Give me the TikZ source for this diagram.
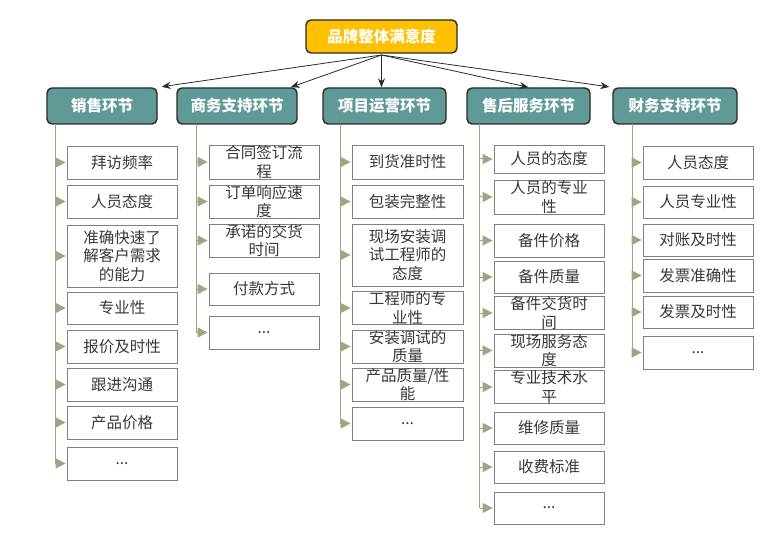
\documentclass[tikz,border=0pt]{standalone}
\usepackage{fontspec}
\newfontfamily\cjk{Noto Sans CJK SC}
\usetikzlibrary{arrows.meta}
\definecolor{topfill}{HTML}{FFC000}
\definecolor{catfill}{HTML}{5F9A96}
\definecolor{darkline}{HTML}{2A2A2A}
\definecolor{olive}{HTML}{A5A283}
\definecolor{boxline}{HTML}{808080}
\definecolor{txt}{HTML}{383838}
\tikzset{
  topbox/.style={draw=darkline, line width=1.4pt, fill=topfill, rounded corners=5pt,
    minimum width=151pt, minimum height=33pt, inner sep=0pt,
    font=\cjk\fontsize{15.5}{18}\selectfont\bfseries, text=white},
  catbox/.style={draw=darkline, line width=1.4pt, fill=catfill, rounded corners=5pt,
    minimum height=36pt, inner sep=0pt,
    font=\cjk\fontsize{15.5}{18}\selectfont\bfseries, text=white},
  child/.style={draw=boxline, line width=0.8pt, minimum width=110pt, inner sep=0pt,
    align=center, font=\cjk\fontsize{15.5}{18.5}\selectfont, text=txt},
  toparrow/.style={draw=darkline, line width=0.8pt, -{Stealth[length=9pt,width=7pt]}},
  vline/.style={draw=olive, line width=1pt},
  tri/.style={draw=olive, line width=1pt, -{Triangle[length=10pt,width=10pt,fill=olive]}, shorten >=1pt}
}
\begin{document}
\begin{tikzpicture}[x=1pt,y=-1pt]
\useasboundingbox (0,0) rectangle (784,540);

\node[topbox] (top) at (381.5,36.5) {品牌整体满意度};

\node[catbox, minimum width=110pt] (cat1) at (102,106) {销售环节};
\node[catbox, minimum width=120pt] (cat2) at (237,106) {商务支持环节};
\node[catbox, minimum width=123pt] (cat3) at (384.5,106) {项目运营环节};
\node[catbox, minimum width=123pt] (cat4) at (528.5,106) {售后服务环节};
\node[catbox, minimum width=124pt] (cat5) at (675,106) {财务支持环节};

\coordinate (src) at (381.5,55);
\draw[toparrow, shorten >=4pt] (src) -- (cat1.north east);
\draw[toparrow] (src) -- ([xshift=-7pt]cat2.north east);
\draw[toparrow] (src) -- (src |- cat3.north);
\draw[toparrow] (src) -- (cat4.north);
\draw[toparrow, shorten >=3pt] (src) -- (cat5.north west);

% column 1
\node[child, minimum height=33pt] (a1) at (122,162.5) {拜访频率};
\node[child, minimum height=33pt] (a2) at (122,201.5) {人员态度};
\node[child, minimum height=62pt] (a3) at (122,256) {准确快速了\\解客户需求\\的能力};
\node[child, minimum height=32pt] (a4) at (122,308) {专业性};
\node[child, minimum height=33pt] (a5) at (122,346.5) {报价及时性};
\node[child, minimum height=33pt] (a6) at (122,384.5) {跟进沟通};
\node[child, minimum height=33pt] (a7) at (122,422.5) {产品价格};
\node[child, minimum height=33pt] (a8) at (122,463.5) {...};

% column 2
\node[child, minimum height=34pt] (b1) at (264,162) {合同签订流\\程};
\node[child, minimum height=33pt] (b2) at (264,201.5) {订单响应速\\度};
\node[child, minimum height=33pt] (b3) at (264,240.5) {承诺的交货\\时间};
\node[child, minimum height=32pt] (b4) at (264,289) {付款方式};
\node[child, minimum height=33pt] (b5) at (264,332.5) {...};

% column 3
\node[child, minimum width=111pt, minimum height=34pt] (c1) at (407.5,162) {到货准时性};
\node[child, minimum width=111pt, minimum height=33pt] (c2) at (407.5,201.5) {包装完整性};
\node[child, minimum width=111pt, minimum height=62pt] (c3) at (407.5,255) {现场安装调\\试工程师的\\态度};
\node[child, minimum width=111pt, minimum height=32pt] (c4) at (407.5,308) {工程师的专\\业性};
\node[child, minimum width=111pt, minimum height=33pt] (c5) at (407.5,346.5) {安装调试的\\质量};
\node[child, minimum width=111pt, minimum height=33pt] (c6) at (407.5,384.5) {产品质量/性\\能};
\node[child, minimum width=111pt, minimum height=33pt] (c7) at (407.5,423.5) {...};

% column 4
\node[child, minimum height=28pt] (d1) at (549,159) {人员的态度};
\node[child, minimum height=34pt] (d2) at (549,197) {人员的专业\\性};
\node[child, minimum height=33pt] (d3) at (549,240.5) {备件价格};
\node[child, minimum height=32pt] (d4) at (549,277) {备件质量};
\node[child, minimum height=32pt] (d5) at (549,313) {备件交货时\\间};
\node[child, minimum height=33pt] (d6) at (549,350.5) {现场服务态\\度};
\node[child, minimum height=32pt] (d7) at (549,387) {专业技术水\\平};
\node[child, minimum height=32pt] (d8) at (549,428) {维修质量};
\node[child, minimum height=32pt] (d9) at (549,467) {收费标准};
\node[child, minimum height=32pt] (d10) at (549,508) {...};

% column 5
\node[child, minimum height=33pt] (e1) at (698,162.5) {人员态度};
\node[child, minimum height=32pt] (e2) at (698,202) {人员专业性};
\node[child, minimum height=32pt] (e3) at (698,240) {对账及时性};
\node[child, minimum height=33pt] (e4) at (698,275.5) {发票准确性};
\node[child, minimum height=32pt] (e5) at (698,312) {发票及时性};
\node[child, minimum height=33pt] (e6) at (698,352.5) {...};

% trunk coordinates
\coordinate (v1) at (55,124);
\coordinate (v2) at (196.5,124);
\coordinate (v3) at (340.5,124);
\coordinate (v4) at (479.5,124);
\coordinate (v5) at (632,124);

\draw[vline] (v1) -- (v1 |- a8.west);
\foreach \n in {a1,a2,a3,a4,a5,a6,a7,a8} \draw[tri] (v1 |- \n.west) -- (\n.west);
\draw[vline] (v2) -- (v2 |- b5.west);
\foreach \n in {b1,b2,b3,b4,b5} \draw[tri] (v2 |- \n.west) -- (\n.west);
\draw[vline] (v3) -- (v3 |- c7.west);
\foreach \n in {c1,c2,c3,c4,c5,c6,c7} \draw[tri] (v3 |- \n.west) -- (\n.west);
\draw[vline] (v4) -- (v4 |- d10.west);
\foreach \n in {d1,d2,d3,d4,d5,d6,d7,d8,d9,d10} \draw[tri] (v4 |- \n.west) -- (\n.west);
\draw[vline] (v5) -- (v5 |- e6.west);
\foreach \n in {e1,e2,e3,e4,e5,e6} \draw[tri] (v5 |- \n.west) -- (\n.west);
\end{tikzpicture}
\end{document}
